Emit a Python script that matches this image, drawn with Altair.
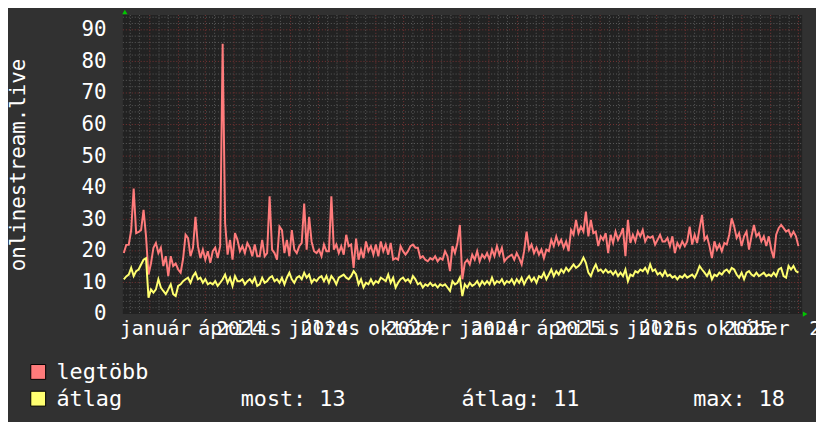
import altair as alt
import pandas as pd

MONO = "DejaVu Sans Mono"

# ---- data -----------------------------------------------------------------
# one sample every 64 hours, first sample 2023-12-04
max_vals = [
    19.3, 21.9, 21.9, 26.6, 39.7, 25.6, 26.0, 26.6, 33.0, 24.6,
    12.5, 16.0, 21.0, 22.5, 19.3, 21.0, 15.2, 18.3, 12.0, 18.3,
    15.2, 16.0, 14.1, 13.1, 17.5, 25.1, 24.0, 18.3, 21.0, 30.8,
    21.5, 17.7, 20.4, 17.2, 19.9, 16.2, 19.9, 21.0, 17.7, 21.5,
    85.6, 28.8, 18.8, 23.5, 17.2, 25.6, 23.5, 19.9, 21.5, 19.3,
    22.5, 21.0, 18.3, 22.0, 18.3, 18.3, 23.5, 18.3, 19.3, 37.3,
    20.4, 19.3, 17.2, 27.7, 26.6, 19.3, 23.5, 18.3, 26.6, 20.4,
    19.3, 21.5, 22.5, 35.0, 20.4, 30.8, 22.9, 19.9, 19.3, 20.4,
    18.3, 22.0, 19.9, 19.9, 37.3, 20.4, 22.0, 19.3, 21.5, 18.8,
    25.1, 21.5, 22.0, 14.6,
    23.9, 17.2, 20.4, 17.7, 23.0, 19.9, 21.5, 18.8, 22.0, 18.3,
    23.0, 19.9, 22.0, 18.8, 22.5, 17.2, 17.7, 17.2, 21.5, 19.9,
    18.8, 19.9, 21.5, 22.0, 21.0, 21.0, 17.7, 18.3, 17.2, 16.7,
    17.7, 17.2, 18.3, 16.7, 17.7, 17.2, 19.9, 18.3, 13.6, 21.5,
    19.3, 22.5, 28.2, 11.0, 16.2, 17.2, 15.7, 18.8, 17.2, 19.9,
    16.7, 18.8, 17.7, 19.3, 17.2, 20.4, 18.3, 21.5, 18.8, 21.0,
    16.7, 17.7, 18.3, 18.8, 17.2, 19.3, 17.7, 15.7, 19.9, 26.1,
    20.4, 22.0, 19.3, 21.0, 18.8, 20.4, 17.7, 20.4, 19.9, 23.5,
    21.5, 24.6, 22.0, 23.5, 21.0, 23.0, 19.9, 26.6, 25.1, 29.8,
    25.6, 27.7, 26.1, 32.4, 24.6, 29.8,
    25.6, 26.1, 21.5, 24.6, 23.5, 25.6, 19.3, 25.1, 22.5, 26.1,
    23.5, 25.1, 27.2, 18.3, 29.8, 22.5, 25.1, 23.0, 26.1, 24.6,
    26.6, 23.0, 24.6, 24.1, 24.6, 22.0, 23.5, 25.1, 23.0, 23.0,
    24.1, 21.5, 24.6, 19.3, 22.5, 21.0, 23.0, 21.5, 23.0, 27.7,
    22.0, 25.1, 22.5, 27.2, 31.4, 23.5, 24.6, 21.5, 17.7, 23.0,
    20.4, 22.0, 19.9, 22.5, 22.0, 25.1, 30.3, 27.7, 24.1, 25.6,
    21.5, 24.6, 26.1, 20.4, 24.6, 28.2, 24.6, 25.6, 23.0, 24.6,
    21.5, 24.6, 20.4, 17.7, 25.1, 27.2, 28.2, 27.2, 26.1, 26.6,
    24.6, 26.1, 24.6, 21.5,
]

avg_vals = [
    11.0, 11.9, 12.5, 14.6, 12.0, 13.6, 14.1, 15.7, 17.2, 17.7,
    5.2, 7.8, 6.8, 7.8, 11.0, 8.4, 7.3, 6.3, 7.8, 9.4,
    6.3, 5.7, 8.9, 9.4, 10.4, 11.0, 11.5, 9.9, 12.0, 13.1,
    11.0, 11.5, 9.9, 11.0, 9.4, 9.9, 9.4, 10.4, 8.9, 9.9,
    11.0, 12.5, 9.9, 11.5, 8.9, 12.0, 10.4, 10.4, 11.0, 9.4,
    10.4, 11.0, 9.9, 11.5, 8.9, 9.4, 11.5, 9.9, 10.4, 11.5,
    12.0, 10.4, 11.0, 9.9, 11.5, 9.4, 11.5, 13.1, 11.0, 9.9,
    11.5, 12.0, 11.0, 13.1, 11.5, 12.5, 9.9, 11.0, 10.4, 11.5,
    12.0, 10.4, 12.0, 9.9, 12.0, 11.0, 9.4, 11.5, 12.0, 12.5,
    11.5, 11.0, 12.0, 13.6,
    12.5, 9.4, 11.0, 8.4, 9.9, 9.4, 11.0, 9.4, 10.4, 9.9,
    11.5, 11.0, 10.4, 12.5, 9.9, 11.5, 8.4, 9.9, 11.0, 11.5,
    10.4, 11.0, 9.9, 12.0, 11.0, 9.4, 9.9, 8.4, 9.4, 8.9,
    9.9, 8.9, 9.4, 8.4, 9.4, 8.9, 9.4, 8.4, 7.3, 10.4,
    9.4, 9.9, 11.5, 5.7, 9.4, 8.4, 9.9, 8.9, 9.4, 10.4,
    8.9, 10.4, 9.4, 10.4, 9.4, 11.5, 9.4, 10.4, 9.9, 11.0,
    9.4, 10.4, 9.9, 11.0, 9.4, 11.0, 9.9, 11.5, 9.4, 11.0,
    12.0, 10.4, 11.5, 9.9, 12.0, 11.5, 13.1, 11.0, 12.5, 14.1,
    12.0, 13.6, 12.5, 14.1, 13.1, 14.6, 13.6, 14.6, 15.7, 14.6,
    15.2, 16.2, 17.9, 16.2, 13.1, 12.0,
    14.1, 15.7, 13.6, 14.1, 13.1, 14.1, 13.1, 13.6, 12.5, 13.6,
    12.0, 13.1, 12.0, 14.1, 10.4, 12.5, 12.0, 13.6, 13.1, 14.1,
    13.6, 14.6, 13.1, 15.7, 13.6, 14.1, 12.5, 13.1, 12.0, 13.6,
    12.0, 12.5, 11.5, 12.0, 11.0, 12.0, 11.5, 12.5, 11.5, 12.0,
    12.5, 11.5, 13.1, 15.2, 14.1, 13.1, 12.0, 13.6, 11.0, 12.5,
    12.0, 13.1, 12.5, 13.6, 14.1, 13.1, 14.6, 14.1, 12.5, 11.5,
    13.1, 11.0, 13.1, 13.6, 12.5, 12.0, 13.1, 12.0, 12.5, 13.1,
    12.0, 12.5, 12.0, 13.1, 12.0, 14.1, 14.6, 12.0, 11.5, 15.2,
    14.1, 15.2, 13.6, 13.1,
]

range_start = "2023-12-03"
range_end = "2025-12-05"
first_sample = "2023-12-04"
sample_hours = 64

y_ticks = [0, 10, 20, 30, 40, 50, 60, 70, 80, 90]
y_top = 94.7
# month names sit on their quarter tick, the year parts land on the following tick
month_tick_dates = ["2024-01-01", "2024-04-01", "2024-07-01", "2024-10-01",
                    "2025-01-01", "2025-04-01", "2025-07-01", "2025-10-01"]
month_texts = ["január", "április", "július", "október",
               "január", "április", "július", "október"]
year_tick_dates = ["2024-04-01", "2024-07-01", "2024-10-01", "2025-01-01",
                   "2025-04-01", "2025-07-01", "2025-10-01", "2026-01-01"]
year_texts = ["2024", "2024", "2024", "2024", "2025", "2025", "2025", "2025"]
y_title = "onlinestream.live"
series_names = ["legtöbb", "átlag"]
stat_texts = ["most: 13", "átlag: 11", "max: 18"]

# ---- helpers -----------------------------------------------------------------
t0 = pd.Timestamp(range_start)


def day(ts):
    return (pd.Timestamp(ts) - t0) / pd.Timedelta(days=1)


total_days = day(range_end)
n = len(max_vals)
times = [pd.Timestamp(first_sample) + pd.Timedelta(hours=sample_hours) * i for i in range(n)]
df = pd.DataFrame({"d": [day(t) for t in times], "mx": max_vals, "av": avg_vals})

all_months = pd.date_range("2023-12-01", "2025-12-01", freq="MS")
major_x = pd.DataFrame({"d": [day(m) for m in all_months if 0 <= day(m) <= total_days]})
minor_days = []
for m in all_months:
    for k in (10, 20):
        dd = day(m + pd.Timedelta(days=k))
        if 0 <= dd <= total_days:
            minor_days.append(dd)
minor_x = pd.DataFrame({"d": minor_days})
major_y = pd.DataFrame({"v": [v for v in y_ticks if v > 0]})
minor_y = pd.DataFrame({"v": [v for v in range(2, 95, 2) if v % 10 != 0]})
months_df = pd.DataFrame({"d": [day(x) for x in month_tick_dates], "t": month_texts})
years_df = pd.DataFrame({"d": [day(x) for x in year_tick_dates], "t": year_texts})

W, H = 686, 302
xs = alt.Scale(domain=[0, total_days], nice=False, zero=False)
ys = alt.Scale(domain=[0, y_top], nice=False, zero=True)
yaxis = alt.Axis(values=y_ticks, title=y_title, grid=False, domain=False, ticks=False,
                 labelFont=MONO, labelFontSize=21, labelColor="#ffffff", labelPadding=17,
                 titleFont=MONO, titleFontSize=21, titleColor="#ffffff",
                 titleFontWeight="normal", titleAngle=270, titleAlign="center",
                 titleBaseline="middle", titleX=-105, titleY=151)

RED = "#ff7b7b"
YEL = "#ffff70"
GRID = "#5a5a5a"
MGRID = "#7a3434"

minor_v = alt.Chart(minor_x).mark_rule(color=GRID, strokeDash=[1, 2], strokeWidth=1).encode(
    x=alt.X("d:Q", scale=xs, axis=None), y=alt.value(0), y2=alt.value(H))
minor_h = alt.Chart(minor_y).mark_rule(color=GRID, strokeDash=[1, 2], strokeWidth=1).encode(
    y=alt.Y("v:Q", scale=ys, axis=yaxis), x=alt.value(0), x2=alt.value(W))
major_v = alt.Chart(major_x).mark_rule(color=MGRID, strokeDash=[1, 2], strokeWidth=1).encode(
    x=alt.X("d:Q", scale=xs, axis=None), y=alt.value(0), y2=alt.value(H))
major_h = alt.Chart(major_y).mark_rule(color=MGRID, strokeDash=[1, 2], strokeWidth=1).encode(
    y=alt.Y("v:Q", scale=ys, axis=yaxis), x=alt.value(0), x2=alt.value(W))

line_max = alt.Chart(df).mark_line(color=RED, strokeWidth=2).encode(
    x=alt.X("d:Q", scale=xs, axis=None), y=alt.Y("mx:Q", scale=ys, axis=yaxis))
line_avg = alt.Chart(df).mark_line(color=YEL, strokeWidth=2).encode(
    x=alt.X("d:Q", scale=xs, axis=None), y=alt.Y("av:Q", scale=ys, axis=yaxis))


def tick_text(frame):
    return alt.Chart(frame).mark_text(font=MONO, fontSize=20, color="#ffffff",
                                      align="center", baseline="alphabetic", dx=6).encode(
        x=alt.X("d:Q", scale=xs, axis=None), y=alt.value(323), text="t:N")


xlab_m = tick_text(months_df)
xlab_y = tick_text(years_df)

one = lambda s: pd.DataFrame({"t": [s]})

arrow_up = alt.Chart(one("")).mark_point(shape="triangle-up", filled=True, color="#00c800",
                                          size=28, opacity=1).encode(
    x=alt.value(2), y=alt.value(-3))
arrow_right = alt.Chart(one("")).mark_point(shape="triangle-right", filled=True, color="#00c800",
                                             size=28, opacity=1).encode(
    x=alt.value(W + 3), y=alt.value(H))

sq1 = alt.Chart(one(series_names[0])).mark_rect(fill=RED, stroke="#000000", strokeWidth=1).encode(
    x=alt.value(-93), x2=alt.value(-78), y=alt.value(353), y2=alt.value(368))
sq2 = alt.Chart(one(series_names[1])).mark_rect(fill=YEL, stroke="#000000", strokeWidth=1).encode(
    x=alt.value(-93), x2=alt.value(-78), y=alt.value(380), y2=alt.value(395))


def legend_text(s, x, y):
    return alt.Chart(one(s)).mark_text(font=MONO, fontSize=22, color="#ffffff", align="left",
                                       baseline="alphabetic").encode(
        x=alt.value(x), y=alt.value(y), text="t:N")


leg = [
    legend_text(series_names[0], -67, 368),
    legend_text(series_names[1], -67, 395),
    legend_text(stat_texts[0], 119, 395),
    legend_text(stat_texts[1], 342, 395),
    legend_text(stat_texts[2], 576, 395),
]

chart = alt.layer(minor_v, minor_h, major_v, major_h, line_max, line_avg, xlab_m, xlab_y,
                  arrow_up, arrow_right, sq1, sq2, *leg).properties(
    width=W, height=H,
    padding={"left": 116, "top": 5, "right": 14, "bottom": 107},
    autosize=alt.AutoSizeParams(type="none"),
).configure(background="#313131").configure_view(fill="#222222", strokeWidth=0)

chart.save("out.html", embed_options={"renderer": "svg", "actions": False})
